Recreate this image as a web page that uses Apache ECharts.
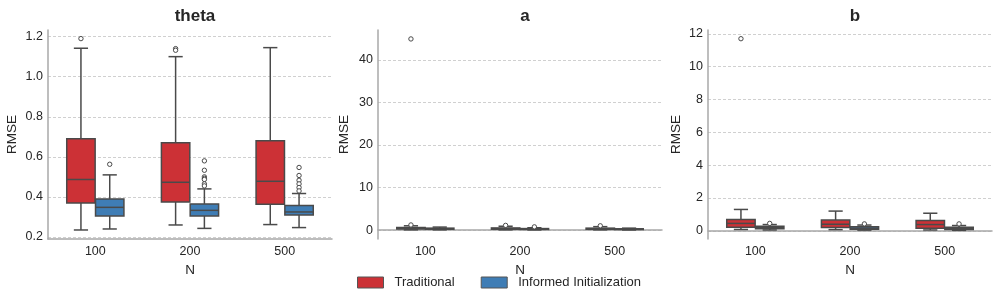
<!DOCTYPE html>
<html>
<head>
<meta charset="utf-8">
<script src="https://cdn.jsdelivr.net/npm/echarts@6/dist/echarts.min.js"></script>
<style>
html,body{margin:0;padding:0;background:#fff;}
#chart{width:997px;height:300px;}
</style>
</head>
<body>
<div id="chart"></div>
<script>
// ---------- data ----------
const categories = ['100', '200', '500'];
const panelTitles = ['theta', 'a', 'b'];
const seriesNames = ['Traditional', 'Informed Initialization'];

// each box: [min whisker, q1, median, q3, max whisker]
const thetaTraditional = [
  [0.235, 0.370, 0.487, 0.690, 1.142],
  [0.260, 0.375, 0.473, 0.670, 1.100],
  [0.262, 0.363, 0.478, 0.680, 1.145]
];
const thetaInformed = [
  [0.240, 0.305, 0.348, 0.390, 0.510],
  [0.243, 0.305, 0.333, 0.365, 0.440],
  [0.247, 0.310, 0.325, 0.357, 0.417]
];
const thetaTraditionalOutliers = [[1.19], [1.14, 1.132], []];
const thetaInformedOutliers = [
  [0.563],
  [0.580, 0.533, 0.500, 0.493, 0.487, 0.465, 0.455],
  [0.547, 0.507, 0.483, 0.465, 0.447, 0.430]
];

const aTraditional = [
  [0.05, 0.25, 0.40, 0.60, 1.00],
  [0.05, 0.20, 0.30, 0.50, 0.90],
  [0.05, 0.18, 0.28, 0.45, 0.80]
];
const aInformed = [
  [0.05, 0.20, 0.30, 0.45, 0.70],
  [0.03, 0.15, 0.25, 0.35, 0.55],
  [0.03, 0.12, 0.20, 0.30, 0.45]
];
const aTraditionalOutliers = [[44.9, 1.2], [1.1], [1.0]];
const aInformedOutliers = [[], [0.75], []];

const bTraditional = [
  [0.08, 0.22, 0.45, 0.69, 1.30],
  [0.07, 0.20, 0.40, 0.65, 1.20],
  [0.05, 0.16, 0.38, 0.63, 1.07]
];
const bInformed = [
  [0.05, 0.13, 0.20, 0.28, 0.38],
  [0.04, 0.10, 0.16, 0.24, 0.35],
  [0.03, 0.08, 0.14, 0.22, 0.32]
];
const bTraditionalOutliers = [[11.7], [], []];
const bInformedOutliers = [[0.45], [0.42], [0.42]];

// ---------- styling ----------
const RED = '#cc3136';
const BLUE = '#3f7db5';
const LINE = '#4a4a4a';
const TEXT = '#262626';
const FONT = '"Liberation Sans", Arial, sans-serif';
const BOXW = 0.30;
const OFF = 0.152;

const panels = [
  {box: [thetaTraditional, thetaInformed], out: [thetaTraditionalOutliers, thetaInformedOutliers],
   min: 0.19, max: 1.233, step: 0.2, dec: 1, left: 48, nameGap: 29},
  {box: [aTraditional, aInformed], out: [aTraditionalOutliers, aInformedOutliers],
   min: -2.1, max: 47.0, step: 10, dec: 0, left: 378, nameGap: 27},
  {box: [bTraditional, bInformed], out: [bTraditionalOutliers, bInformedOutliers],
   min: -0.5, max: 12.23, step: 2, dec: 0, left: 708, nameGap: 25}
];
const GRID_W = 284, GRID_TOP = 30, GRID_H = 209;

function boxRender(side) {
  return function (params, api) {
    const ci = api.value(0);
    const band = api.size([1, 0])[0];
    const w = band * BOXW;
    const cx = api.coord([ci, 0])[0] + side * band * OFF;
    const y = v => api.coord([ci, v])[1];
    const y0 = y(api.value(1)), y1 = y(api.value(2)), y2 = y(api.value(3)),
          y3 = y(api.value(4)), y4 = y(api.value(5));
    const ls = {stroke: LINE, lineWidth: 1.5};
    return {
      type: 'group',
      children: [
        {type: 'line', shape: {x1: cx, y1: y3, x2: cx, y2: y4}, style: ls},
        {type: 'line', shape: {x1: cx, y1: y1, x2: cx, y2: y0}, style: ls},
        {type: 'line', shape: {x1: cx - w / 4, y1: y4, x2: cx + w / 4, y2: y4}, style: ls},
        {type: 'line', shape: {x1: cx - w / 4, y1: y0, x2: cx + w / 4, y2: y0}, style: ls},
        {type: 'rect', shape: {x: cx - w / 2, y: y3, width: w, height: y1 - y3},
         style: {fill: api.visual('color'), stroke: LINE, lineWidth: 1.5}},
        {type: 'line', shape: {x1: cx - w / 2, y1: y2, x2: cx + w / 2, y2: y2}, style: ls}
      ]
    };
  };
}
function outlierRender(side) {
  return function (params, api) {
    const ci = api.value(0);
    const band = api.size([1, 0])[0];
    const p = api.coord([ci, api.value(1)]);
    return {
      type: 'circle',
      shape: {cx: p[0] + side * band * OFF, cy: p[1], r: 2.2},
      style: {fill: '#ffffff', stroke: LINE, lineWidth: 1}
    };
  };
}

const grid = [], xAxis = [], yAxis = [], title = [], series = [];
panels.forEach((pn, gi) => {
  grid.push({left: pn.left, top: GRID_TOP, width: GRID_W, height: GRID_H});
  title.push({
    text: panelTitles[gi], left: pn.left + GRID_W / 2, top: 3, textAlign: 'center',
    textStyle: {fontFamily: FONT, fontSize: 17, fontWeight: 'bold', color: TEXT}
  });
  xAxis.push({
    type: 'category', gridIndex: gi, data: categories, name: 'N',
    nameLocation: 'middle', nameGap: 22,
    nameTextStyle: {fontFamily: FONT, fontSize: 13.5, color: TEXT},
    axisLine: {show: true, lineStyle: {color: '#a8a8a8', width: 1.5}},
    axisTick: {show: false},
    axisLabel: {fontFamily: FONT, fontSize: 12.5, color: TEXT, margin: 6},
    splitLine: {show: false}
  });
  yAxis.push({
    type: 'value', gridIndex: gi, min: pn.min, max: pn.max,
    splitNumber: 5, minInterval: pn.step, maxInterval: pn.step,
    name: 'RMSE', nameLocation: 'middle', nameGap: pn.nameGap,
    nameTextStyle: {fontFamily: FONT, fontSize: 13.5, color: TEXT},
    axisLine: {show: true, lineStyle: {color: '#a8a8a8', width: 1.5}},
    axisTick: {show: false},
    axisLabel: {fontFamily: FONT, fontSize: 12.5, color: TEXT, margin: 5,
                showMinLabel: false, showMaxLabel: false,
                formatter: v => Number(v).toFixed(pn.dec)},
    splitLine: {show: true, showMinLine: false, showMaxLine: false,
                lineStyle: {color: '#d0d0d0', width: 1, type: [3, 2]}}
  });
  [0, 1].forEach(s => {
    const side = s === 0 ? -1 : 1;
    const color = s === 0 ? RED : BLUE;
    series.push({
      type: 'custom', name: seriesNames[s], xAxisIndex: gi, yAxisIndex: gi,
      itemStyle: {color: color},
      renderItem: boxRender(side),
      encode: {x: 0, y: [1, 2, 3, 4, 5]},
      data: pn.box[s].map((b, ci) => [ci].concat(b)),
      z: 3
    });
    const od = [];
    pn.out[s].forEach((arr, ci) => arr.forEach(v => od.push([ci, v])));
    series.push({
      type: 'custom', name: seriesNames[s], xAxisIndex: gi, yAxisIndex: gi,
      itemStyle: {color: color},
      renderItem: outlierRender(side),
      encode: {x: 0, y: 1},
      data: od,
      z: 4
    });
  });
});

const chart = echarts.init(document.getElementById('chart'), null, {renderer: 'canvas'});
chart.setOption({
  animation: false,
  backgroundColor: '#ffffff',
  title: title,
  grid: grid,
  xAxis: xAxis,
  yAxis: yAxis,
  legend: {
    left: 357, top: 276, padding: 0, icon: 'rect', itemWidth: 26, itemHeight: 11, itemGap: 26,
    data: [
      {name: seriesNames[0], itemStyle: {color: RED, borderColor: '#555', borderWidth: 1}},
      {name: seriesNames[1], itemStyle: {color: BLUE, borderColor: '#555', borderWidth: 1}}
    ],
    textStyle: {fontFamily: FONT, fontSize: 13, color: TEXT, padding: [0, 0, 0, 6]}
  },
  series: series
});
</script>
</body>
</html>
